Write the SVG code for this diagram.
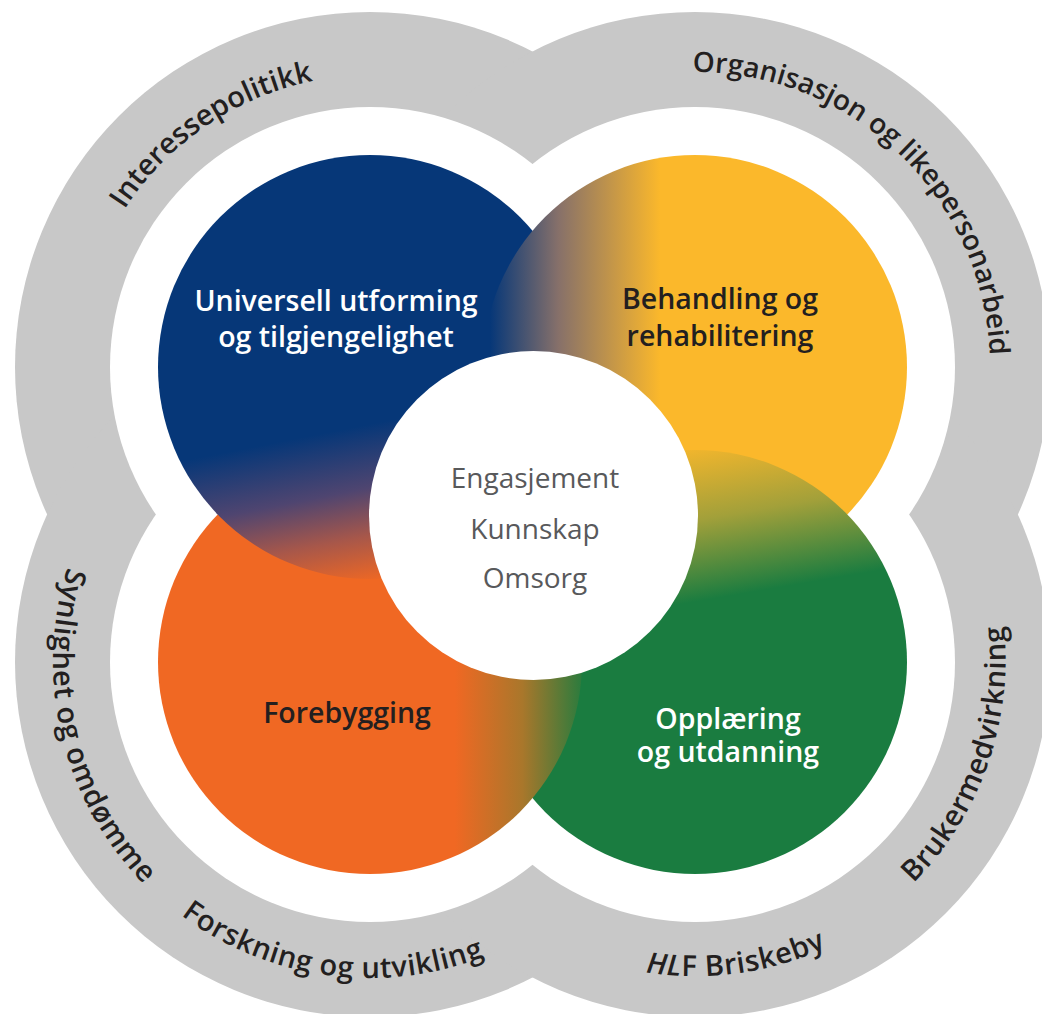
<svg xmlns="http://www.w3.org/2000/svg" width="1042" height="1014" viewBox="0 0 1042 1014">
  <style>
    .ring { fill: #c8c8c8; }
    .band { fill: #ffffff; }
    .ringlabel { font-family: "Open Sans", "Liberation Sans", sans-serif; font-weight: 600; font-size: 29px; fill: #231f20; }
    .small { font-size: 28px; }
    .lower { letter-spacing: 0.6px; }
    .lbl { font-family: "Open Sans", "Liberation Sans", sans-serif; font-weight: 600; font-size: 28.5px; text-anchor: middle; }
    .light { fill: #ffffff; }
    .dark { fill: #231f20; }
    .core { font-family: "Open Sans", "Liberation Sans", sans-serif; font-weight: 400; font-size: 28px; fill: #58595b; text-anchor: middle; }
  </style>
  <defs>
    <linearGradient id="gB" gradientUnits="userSpaceOnUse" x1="330" y1="432" x2="360" y2="585">
      <stop offset="0" stop-color="#063778"/>
      <stop offset="0.4" stop-color="#4f4570"/>
      <stop offset="0.7" stop-color="#a7574a"/>
      <stop offset="1" stop-color="#f06823"/>
    </linearGradient>
    <linearGradient id="gY" gradientUnits="userSpaceOnUse" x1="490" y1="0" x2="660" y2="0">
      <stop offset="0" stop-color="#063778"/>
      <stop offset="0.4" stop-color="#86706a"/>
      <stop offset="1" stop-color="#fbb82b"/>
    </linearGradient>
    <linearGradient id="gG" gradientUnits="userSpaceOnUse" x1="690" y1="440" x2="717" y2="598">
      <stop offset="0" stop-color="#fbb82b"/>
      <stop offset="0.5" stop-color="#a2a03a"/>
      <stop offset="1" stop-color="#1a7c40"/>
    </linearGradient>
    <linearGradient id="gO" gradientUnits="userSpaceOnUse" x1="455" y1="0" x2="590" y2="0">
      <stop offset="0" stop-color="#f06823"/>
      <stop offset="0.5" stop-color="#a9772b"/>
      <stop offset="1" stop-color="#1a7c40"/>
    </linearGradient>
    <clipPath id="clipOrange">
      <circle cx="370" cy="662" r="214.5"/>
    </clipPath>
    <path id="pTL" d="M126.3,533.2 A295,295 0 0 1 613.7,200.8"/>
    <path id="pTR" d="M481.5,163.4 A295,295 0 0 1 908.5,570.6"/>
    <path id="pL" d="M295.5,353.9 A316,316 0 0 0 444.5,970.1"/>
    <path id="pB1" d="M56.8,619.7 A316,316 0 0 0 683.2,704.3"/>
    <path id="pB2" d="M382,705.4 A316,316 0 0 0 1008,618.6"/>
    <path id="pR" d="M590.6,960.2 A316,316 0 0 0 799.4,363.8"/>
  </defs>

  <rect width="1042" height="1014" fill="#ffffff"/>

  <g id="outer-ring">
    <circle class="ring" cx="370" cy="367" r="355"/>
    <circle class="ring" cx="695" cy="367" r="355"/>
    <circle class="ring" cx="370" cy="662" r="355"/>
    <circle class="ring" cx="695" cy="662" r="355"/>
    <circle class="band" cx="370" cy="367" r="260"/>
    <circle class="band" cx="695" cy="367" r="260"/>
    <circle class="band" cx="370" cy="662" r="260"/>
    <circle class="band" cx="695" cy="662" r="260"/>
  </g>

  <g id="ring-labels">
    <text class="ringlabel"><textPath href="#pTL" startOffset="50%" text-anchor="middle">Interessepolitikk</textPath></text>
    <text class="ringlabel small"><textPath href="#pTR" startOffset="50%" text-anchor="middle">Organisasjon og likepersonarbeid</textPath></text>
    <text class="ringlabel lower"><textPath href="#pL" startOffset="50%" text-anchor="middle">Synlighet og omdømme</textPath></text>
    <text class="ringlabel lower"><textPath href="#pB1" startOffset="50%" text-anchor="middle">Forskning og utvikling</textPath></text>
    <text class="ringlabel lower"><textPath href="#pB2" startOffset="50%" text-anchor="middle"><tspan font-style="italic">HL</tspan>F Briskeby</textPath></text>
    <text class="ringlabel lower"><textPath href="#pR" startOffset="50%" text-anchor="middle">Brukermedvirkning</textPath></text>
  </g>

  <g id="node-universell">
    <circle cx="370" cy="367" r="212" fill="url(#gB)"/>
  </g>
  <g id="node-behandling">
    <circle cx="695" cy="367" r="212" fill="url(#gY)"/>
  </g>
  <g id="node-opplaering">
    <circle cx="695" cy="662" r="212" fill="url(#gG)"/>
  </g>
  <g id="node-forebygging">
    <circle cx="370" cy="662" r="212" fill="url(#gO)"/>
  </g>
  <g id="node-universell-overlap">
    <circle cx="370" cy="367" r="212" fill="url(#gB)" clip-path="url(#clipOrange)"/>
  </g>

  <g id="node-center">
    <circle cx="533.5" cy="515.5" r="164.5" fill="#ffffff"/>
    <text class="core" x="535" y="488">Engasjement</text>
    <text class="core" x="535" y="539">Kunnskap</text>
    <text class="core" x="535" y="588">Omsorg</text>
  </g>

  <g id="labels">
    <text class="lbl light" x="336" y="311">Universell utforming</text>
    <text class="lbl light" x="336" y="347">og tilgjengelighet</text>
    <text class="lbl dark" x="720" y="309">Behandling og</text>
    <text class="lbl dark" x="720" y="346">rehabilitering</text>
    <text class="lbl dark" x="347" y="723">Forebygging</text>
    <text class="lbl light" x="728" y="729">Opplæring</text>
    <text class="lbl light" x="728" y="762">og utdanning</text>
  </g>

  <g id="connectors"/>
</svg>
